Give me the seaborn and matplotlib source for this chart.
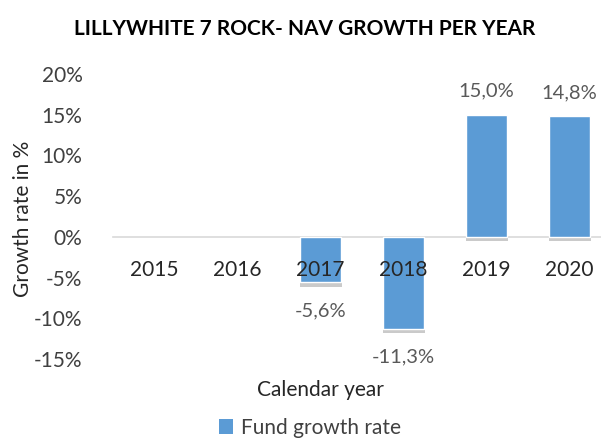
import matplotlib
matplotlib.use("Agg")
import matplotlib.pyplot as plt
import matplotlib.patheffects as pe
from matplotlib.ticker import FuncFormatter
from matplotlib.patches import Patch
import numpy as np
import pandas as pd
import seaborn as sns

years = ["2015", "2016", "2017", "2018", "2019", "2020"]
growth = [np.nan, np.nan, -5.6, -11.3, 15.0, 14.8]
title = "LILLYWHITE 7 ROCK- NAV GROWTH PER YEAR"
series_name = "Fund growth rate"

sns.set_theme(style="white")
plt.rcParams["font.family"] = ["Lato", "DejaVu Sans"]

df = pd.DataFrame({"year": years, "growth": growth})

fig = plt.figure(figsize=(6.01, 4.41), dpi=100)
ax = fig.add_axes([113/601, 82/441, 498/601, 285/441])
ax.set_axisbelow(False)

bar_color = "#5B9BD5"
sns.barplot(data=df, x="year", y="growth", color=bar_color, width=0.5,
            saturation=1, ax=ax, order=years)

for p in ax.patches:
    p.set_path_effects([pe.SimplePatchShadow(offset=(0.5, -3.0), shadow_rgbFace="#505050", alpha=0.3),
                        pe.Normal()])

for p in ax.patches:
    h = p.get_height()
    if np.isnan(h):
        continue
    x = p.get_x() + p.get_width() / 2
    y = p.get_y() + h
    txt = f"{h:.1f}%".replace(".", ",")
    ax.annotate(txt, (x, y), xytext=(0, 11 if h > 0 else -14), textcoords="offset points",
                ha="center", va="bottom" if h > 0 else "top", fontsize=14.5, color="#595959")

ax.set_ylim(-15, 20)
ax.set_xlim(-0.5, 5.5)
ax.set_yticks(np.arange(-15, 21, 5))
ax.yaxis.set_major_formatter(FuncFormatter(lambda v, _: f"{v:.0f}%"))
ax.tick_params(axis="y", length=0, pad=22, labelsize=15, labelcolor="#404040")
ax.tick_params(axis="x", length=0, pad=17, labelsize=15, labelcolor="#262626")

for s in ["left", "right", "top"]:
    ax.spines[s].set_visible(False)
ax.spines["bottom"].set_position(("data", 0))
ax.spines["bottom"].set_color("#D9D9D9")
ax.spines["bottom"].set_linewidth(1.2)
ax.spines["bottom"].set_zorder(0.5)

ax.set_xlabel("Calendar year", fontsize=15, color="#262626")
ax.xaxis.set_label_coords((320-113)/498, -0.075)
ax.set_ylabel("Growth rate in %", fontsize=15, color="#262626")
ax.yaxis.set_label_coords(-0.16, 0.49)

fig.suptitle(title, fontsize=15, fontweight="bold", x=305/601, y=1-19/441, va="top", color="#000000")

handle = Patch(facecolor=bar_color, edgecolor="none")
fig.legend([handle], [series_name], loc="center", bbox_to_anchor=(310/601, 13/441),
           frameon=False, fontsize=15, handlelength=0.7, handleheight=0.7,
           handletextpad=0.4, labelcolor="#404040")

fig.savefig("out.png", dpi=100)
